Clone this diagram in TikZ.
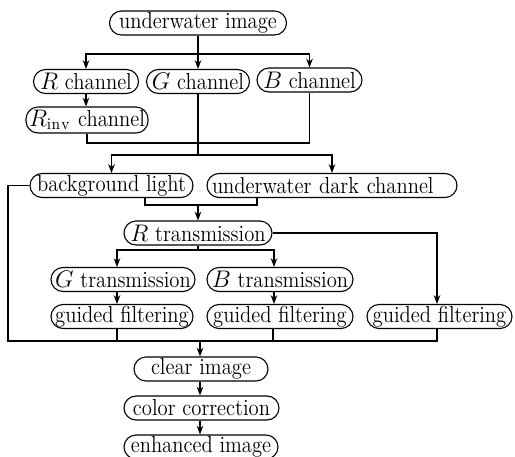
\documentclass[tikz,border=0pt]{standalone}
\usepackage{fontspec}
\setmainfont{Latin Modern Roman}[FakeStretch=0.89]
\usetikzlibrary{arrows.meta, calc}

\begin{document}
\begin{tikzpicture}[x=0.5pt, y=-0.5pt, line width=0.55pt,
  box/.style={draw, rounded corners=6pt, inner xsep=0.8pt, inner ysep=0pt,
    minimum height=12pt, font=\fontsize{11.6}{13}\selectfont},
  arr/.style={-{Stealth[length=4.5pt, width=3.4pt, inset=1.6pt]}}]

  \useasboundingbox (0,0) rectangle (515,456);

  % channels
  \node[box, minimum width=88.5pt] (ui)  at (198,23)    {underwater image};
  \node[box, minimum width=52.5pt] (rc)  at (86,81.5)   {$R$ channel};
  \node[box, minimum width=51.5pt] (gc)  at (198,81.5)  {$G$ channel};
  \node[box, minimum width=52.5pt] (bc)  at (309.5,80)  {$B$ channel};
  \node[box, minimum width=61pt, minimum height=13pt] (ric) at (87,120) {$R_{\mathrm{inv}}$ channel};

  % background light and dark channel
  \node[box, minimum width=81.5pt] (bl)  at (111.5,185.5) {background light};
  \node[box, minimum width=125pt, text width=120pt] (udc) at (332,185.5) {underwater dark channel};

  % transmissions
  \node[box, minimum width=74pt] (rt)  at (198,233)   {$R$ transmission};
  \node[box, minimum width=72pt] (gt)  at (123,279.5) {$G$ transmission};
  \node[box, minimum width=73pt] (bt)  at (280,279.5) {$B$ transmission};
  \node[box, minimum width=71pt]   (gfa) at (122,316.5)   {guided filtering};
  \node[box, minimum width=73pt]   (gfb) at (280,316.5)   {guided filtering};
  \node[box, minimum width=72.5pt] (gfc) at (439.5,316.5) {guided filtering};

  % output
  \node[box, minimum width=67pt]   (ci) at (201,369)   {clear image};
  \node[box, minimum width=77.5pt] (cc) at (201.5,408) {color correction};
  \node[box, minimum width=77pt]   (ei) at (201,447)   {enhanced image};

  % branch points
  \coordinate (s1) at (198,54);
  \coordinate (j1) at (198,143);
  \coordinate (s2) at (198,155);
  \coordinate (m)  at (198,205);
  \coordinate (k)  at (198,250);
  \coordinate (lb) at (8,341);
  \coordinate (bot) at (200,341);

  \draw[arr] (ui.south) -- (s1) -| (rc.north);
  \draw[arr] (s1) -| (bc.north);
  \draw[arr] (ui) -- (gc);
  \draw[arr] (rc.south) -- (rc.south |- ric.north);

  \draw (ric.south) |- (j1) -| (bc.south);
  \draw (gc.south) -- (s2);
  \draw[arr] (s2) -| (bl.north);
  \draw[arr] (s2) -| (udc.north);

  \draw ([xshift=16.75pt]bl.south) |- (m) -| ([xshift=-37.5pt]udc.south);
  \draw[arr] (m) -- (rt);

  \draw[arr] (rt.east) -| ([xshift=-1.25pt]gfc.north);
  \draw[arr] (rt.south) -- (k) -| ([xshift=-3pt]gt.north);
  \draw[arr] (k) -| ([xshift=-3pt]bt.north);
  \draw[arr] ([xshift=-3pt]gt.south) -- ([xshift=-3pt]gt.south |- gfa.north);
  \draw[arr] ([xshift=-3pt]bt.south) -- ([xshift=-3pt]bt.south |- gfb.north);

  \draw (bl.west) -| (lb) -- ([xshift=-1.25pt]gfc.south |- lb) -- ([xshift=-1.25pt]gfc.south);
  \draw ([xshift=-2.5pt]gfa.south) -- ([xshift=-2.5pt]gfa.south |- lb);
  \draw ([xshift=-3.5pt]gfb.south) -- ([xshift=-3.5pt]gfb.south |- lb);
  \draw[arr] (bot) -- (bot |- ci.north);
  \draw[arr] (bot |- ci.south) -- (bot |- cc.north);
  \draw[arr] (bot |- cc.south) -- (bot |- ei.north);
\end{tikzpicture}
\end{document}
